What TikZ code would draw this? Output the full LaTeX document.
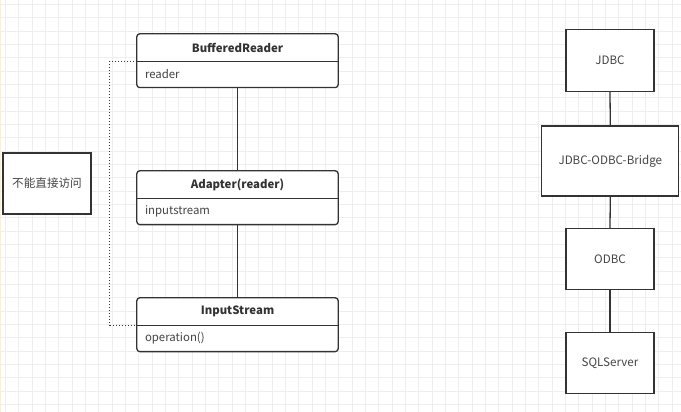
\documentclass[tikz,border=0pt]{standalone}
\usepackage{fontspec}
\setmainfont{Noto Sans CJK SC}
\usetikzlibrary{positioning}
\definecolor{ink}{HTML}{333333}
\definecolor{txt}{HTML}{444444}
\definecolor{gridc}{HTML}{EEEEEE}
\tikzset{
  boxline/.style={draw=ink, line width=1.3pt},
  umltitle/.style={minimum width=201pt, minimum height=27pt, inner sep=0pt, font=\fontsize{11.4}{13}\selectfont\bfseries, text=ink},
  umlbody/.style={text width=185pt, inner xsep=8pt, inner ysep=0pt, minimum height=26pt, align=left, font=\fontsize{11.4}{13}\selectfont, text=txt},
  plainbox/.style={boxline, fill=white, inner sep=0pt, font=\fontsize{11.6}{13}\selectfont, text=txt},
  conn/.style={draw=ink, line width=1.3pt},
  dotconn/.style={draw=ink, line width=1.3pt, dash pattern=on 1.3pt off 1.7pt},
  gridline/.style={draw=gridc, line width=0.8pt}
}
\begin{document}
\begin{tikzpicture}[x=1pt, y=-1pt]
\useasboundingbox (0,0) rectangle (681,412);
\fill[white] (0,0) rectangle (681,412);
\foreach \i in {0,...,51} { \draw[gridline] (5.3+13.333*\i,0) -- (5.3+13.333*\i,412); }
\foreach \i in {0,...,31} { \draw[gridline] (0,4.5+13.333*\i) -- (681,4.5+13.333*\i); }
\draw[draw={rgb,255:red,253;green,240;blue,205}, line width=1pt] (0.5,0) -- (0.5,412);

% Adapter pattern column
\node[umltitle] (brt) at (237.5,47.5) {BufferedReader};
\node[umlbody, below=0pt of brt] (brb) {reader};
\fill[white, rounded corners=3pt] (brt.north west) rectangle (brb.south east);
\node[umltitle] at (brt) {BufferedReader};
\node[umlbody] at (brb) {reader};
\draw[boxline, rounded corners=3pt] (brt.north west) rectangle (brb.south east);
\draw[boxline] (brt.south west) -- (brt.south east);

\node[umltitle] (adt) at (237.5,184.5) {Adapter(reader)};
\node[umlbody, below=0pt of adt] (adb) {inputstream};
\fill[white, rounded corners=3pt] (adt.north west) rectangle (adb.south east);
\node[umltitle] at (adt) {Adapter(reader)};
\node[umlbody] at (adb) {inputstream};
\draw[boxline, rounded corners=3pt] (adt.north west) rectangle (adb.south east);
\draw[boxline] (adt.south west) -- (adt.south east);

\node[umltitle] (ist) at (237.5,311.5) {InputStream};
\node[umlbody, below=0pt of ist] (isb) {operation()};
\fill[white, rounded corners=3pt] (ist.north west) rectangle (isb.south east);
\node[umltitle] at (ist) {InputStream};
\node[umlbody] at (isb) {operation()};
\draw[boxline, rounded corners=3pt] (ist.north west) rectangle (isb.south east);
\draw[boxline] (ist.south west) -- (ist.south east);

\draw[conn] (brb.south) -- (adt.north);
\draw[conn] (adb.south) -- (ist.north);
\draw[dotconn] (brt.south west) -- ++(-27,0) |- (ist.south west);

\node[plainbox, minimum width=88pt, minimum height=61pt] (note) at (47,183.5) {不能直接访问};

% JDBC column
\node[plainbox, minimum width=88pt, minimum height=62pt] (jdbc) at (610,60.5) {JDBC};
\node[plainbox, minimum width=137pt, minimum height=70pt] (bridge) at (610.3,161) {JDBC-ODBC-Bridge};
\node[plainbox, minimum width=88pt, minimum height=61pt] (odbc) at (610,259) {ODBC};
\node[plainbox, minimum width=88pt, minimum height=61pt] (sql) at (610,363) {SQLServer};
\draw[conn] (jdbc.south) -- (bridge.north);
\draw[conn] (bridge.south) -- (odbc.north);
\draw[conn] (odbc.south) -- (sql.north);
\end{tikzpicture}
\end{document}
